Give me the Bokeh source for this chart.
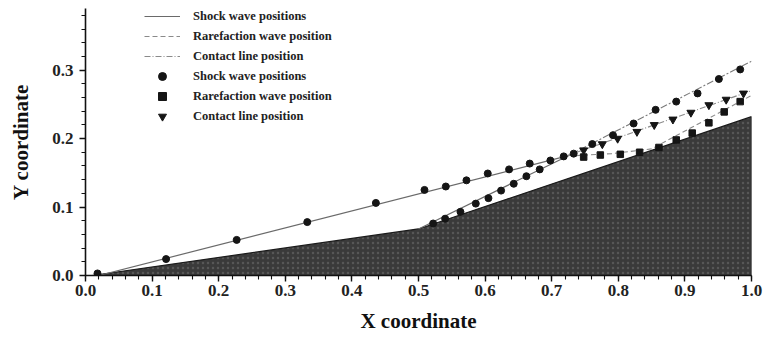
from bokeh.plotting import figure
from bokeh.models import FixedTicker, Legend, LegendItem, Range1d
from bokeh.embed import file_html
from bokeh.resources import INLINE
import numpy as np

# ---- data -----------------------------------------------------------------
# wedge surface (double wedge, compression corner at x = 0.5)
wedge_x = [0.01, 0.50, 1.00, 1.00]
wedge_y = [0.00, 0.068, 0.232, 0.00]

# shock wave positions (circles)
shock_x = [0.018, 0.121, 0.227, 0.333, 0.436, 0.509, 0.541, 0.572, 0.604, 0.636,
           0.667, 0.698,
           0.522, 0.540, 0.563, 0.586, 0.605, 0.624, 0.643, 0.662, 0.682,
           0.718, 0.733, 0.761, 0.792, 0.823, 0.856, 0.887, 0.919, 0.951, 0.983]
shock_y = [0.003, 0.024, 0.052, 0.078, 0.106, 0.125, 0.130, 0.139, 0.149, 0.155,
           0.1635, 0.168,
           0.076, 0.083, 0.093, 0.105, 0.113, 0.124, 0.134, 0.145, 0.155,
           0.174, 0.178, 0.192, 0.205, 0.222, 0.242, 0.254, 0.266, 0.287, 0.301]

# rarefaction wave positions (squares)
rare_x = [0.748, 0.773, 0.803, 0.832, 0.861, 0.887, 0.911, 0.936, 0.959, 0.983]
rare_y = [0.173, 0.176, 0.177, 0.180, 0.187, 0.198, 0.208, 0.223, 0.239, 0.254]

# contact line positions (triangles)
cont_x = [0.748, 0.776, 0.799, 0.828, 0.854, 0.882, 0.909, 0.936, 0.962, 0.988]
cont_y = [0.183, 0.192, 0.200, 0.210, 0.220, 0.228, 0.238, 0.249, 0.257, 0.266]

# computed wave lines
shock_line_xs = [[0.02, 0.725], [0.50, 0.725]]
shock_line_ys = [[0.000, 0.175], [0.068, 0.175]]
merged_shock_x = [0.725, 1.00]
merged_shock_y = [0.175, 0.313]
rare_line_x = [0.735, 0.790, 0.850, 1.00]
rare_line_y = [0.175, 0.178, 0.185, 0.263]
cont_line_x = [0.72, 1.00]
cont_line_y = [0.174, 0.270]

x_ticks = [0.0, 0.1, 0.2, 0.3, 0.4, 0.5, 0.6, 0.7, 0.8, 0.9, 1.0]
x_tick_labels = ["0.0", "0.1", "0.2", "0.3", "0.4", "0.5", "0.6", "0.7", "0.8", "0.9", "1.0"]
y_ticks = [0.0, 0.1, 0.2, 0.3]
y_tick_labels = ["0.0", "0.1", "0.2", "0.3"]

legend_labels = ["Shock wave positions", "Rarefaction wave position", "Contact line position",
                 "Shock wave positions", "Rarefaction wave position", "Contact line position"]

SERIF = "Liberation Serif"

# ---- figure ---------------------------------------------------------------
p = figure(width=766, height=337, output_backend="svg", toolbar_location=None,
           x_range=Range1d(0.0, 1.0), y_range=Range1d(0.0, 0.39),
           min_border_left=85, min_border_right=15, min_border_top=8, min_border_bottom=62)
p.outline_line_color = None
p.xgrid.visible = False
p.ygrid.visible = False
p.background_fill_color = "white"
p.border_fill_color = "white"

# wedge body
p.patch(wedge_x, wedge_y, fill_color="#3a3a3a", line_color="#1a1a1a", line_width=1.2,
        hatch_pattern="dot", hatch_color="#747474", hatch_alpha=0.5, hatch_scale=5, hatch_weight=1)

# wave lines
r_shock_line = p.multi_line(shock_line_xs, shock_line_ys, line_color="#6a6a6a", line_width=1.2)
p.line(merged_shock_x, merged_shock_y, line_color="#7a7a7a", line_width=1.1, line_dash="7 2 2 2")
r_rare_line = p.line(rare_line_x, rare_line_y, line_color="#8a8a8a", line_width=1.1, line_dash="5 3")
r_cont_line = p.line(cont_line_x, cont_line_y, line_color="#8a8a8a", line_width=1.1, line_dash="6 2 1 2")

# markers
r_shock = p.scatter(shock_x, shock_y, marker="circle", size=7, color="#151515")
r_rare = p.scatter(rare_x, rare_y, marker="square", size=6.5, color="#151515")
r_cont = p.scatter(cont_x, cont_y, marker="inverted_triangle", size=8, color="#151515")

renderers = [r_shock_line, r_rare_line, r_cont_line, r_shock, r_rare, r_cont]
legend = Legend(items=[LegendItem(label=lab, renderers=[r]) for lab, r in zip(legend_labels, renderers)],
                location=(59, 149), orientation="vertical",
                glyph_width=36, glyph_height=20, label_height=20, spacing=0,
                label_standoff=13, padding=0, margin=0,
                border_line_color=None, background_fill_alpha=0,
                label_text_font=SERIF, label_text_font_style="bold",
                label_text_font_size="12.5px", label_text_color="#222222")
p.add_layout(legend)

# axes
for ax in (p.xaxis[0], p.yaxis[0]):
    ax.axis_line_color = "#111111"
    ax.axis_line_width = 1.6
    ax.major_tick_line_color = "#111111"
    ax.major_tick_line_width = 1.4
    ax.minor_tick_line_color = "#111111"
    ax.minor_tick_line_width = 1.1
    ax.major_tick_in = 0
    ax.major_tick_out = 6
    ax.minor_tick_in = 0
    ax.minor_tick_out = 4
    ax.major_label_text_font = SERIF
    ax.major_label_text_font_style = "bold"
    ax.major_label_text_font_size = "17px"
    ax.major_label_text_color = "#222222"
    ax.axis_label_text_font = SERIF
    ax.axis_label_text_font_style = "bold"
    ax.axis_label_text_font_size = "21px"
    ax.axis_label_text_color = "#111111"

p.xaxis[0].ticker = FixedTicker(ticks=x_ticks,
                                minor_ticks=[round(v, 2) for v in np.arange(0.0, 1.001, 0.02)])
p.xaxis[0].major_label_overrides = dict(zip(x_ticks, x_tick_labels))
p.xaxis[0].axis_label = "X coordinate"
p.xaxis[0].major_label_standoff = 3
p.xaxis[0].axis_label_standoff = 10

p.yaxis[0].ticker = FixedTicker(ticks=y_ticks,
                                minor_ticks=[round(v, 2) for v in np.arange(0.0, 0.381, 0.02)])
p.yaxis[0].major_label_overrides = dict(zip(y_ticks, y_tick_labels))
p.yaxis[0].axis_label = "Y coordinate"
p.yaxis[0].major_label_standoff = 6
p.yaxis[0].axis_label_standoff = 16

open("out.html", "w").write(file_html(p, INLINE))
